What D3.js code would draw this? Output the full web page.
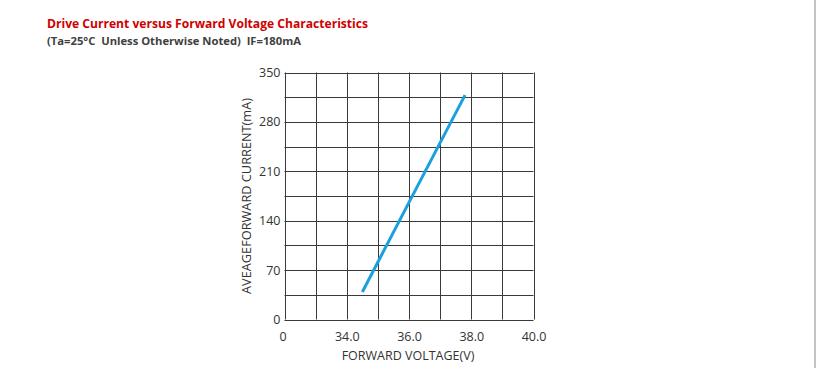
<!DOCTYPE html>
<html>
<head>
<meta charset="utf-8">
<script src="https://cdn.jsdelivr.net/npm/d3@7"></script>
<style>
  html, body { margin: 0; padding: 0; background: #fff; }
  svg { display: block; }
</style>
</head>
<body>
<svg id="chart" width="817" height="370"></svg>
<script>
// values
const voltage = [34.5, 36.0, 37.8];       // V
const current = [39, 166, 318];           // mA
const x_ticks = [32, 34, 36, 38, 40];     // 32 is printed as "0" (axis break)
const y_ticks = [0, 70, 140, 210, 280, 350];
const x_grid = d3.range(32, 40.01, 1);
const y_grid = d3.range(0, 350.01, 35);

const title = "Drive Current versus Forward Voltage Characteristics";
const subtitle = "(Ta=25\u00b0C  Unless Otherwise Noted)  IF=180mA";
const x_label = "FORWARD VOLTAGE(V)";
const y_label = "AVEAGEFORWARD CURRENT(mA)";

const svg = d3.select("#chart");
const plot_left = 284.5, plot_right = 533.5, plot_top = 72.5, plot_bottom = 319.5;

const x = d3.scaleLinear().domain([32, 40]).range([plot_left, plot_right]);
const y = d3.scaleLinear().domain([0, 350]).range([plot_bottom, plot_top]);

// page edge on the right
svg.append("line")
    .attr("x1", 815).attr("x2", 815).attr("y1", 0).attr("y2", 368)
    .attr("stroke", "#c4c4c4").attr("stroke-width", 2);

svg.append("text")
    .attr("x", 47).attr("y", 28)
    .attr("textLength", 321).attr("lengthAdjust", "spacingAndGlyphs")
    .style("font", "bold 12.5px 'Open Sans', sans-serif")
    .attr("fill", "#d00000")
    .text(title);

svg.append("text")
    .attr("x", 47).attr("y", 44.5)
    .attr("textLength", 254).attr("lengthAdjust", "spacingAndGlyphs")
    .style("font", "bold 10.5px 'Open Sans', sans-serif")
    .style("white-space", "pre")
    .attr("fill", "#404040")
    .text(subtitle);

// grid
svg.append("g").selectAll("line")
    .data(x_grid)
    .enter().append("line")
    .attr("x1", d => Math.round(x(d)) + 0.5).attr("x2", d => Math.round(x(d)) + 0.5)
    .attr("y1", plot_top).attr("y2", plot_bottom)
    .attr("stroke", "#3a3a3a").attr("stroke-width", 1);

svg.append("g").selectAll("line")
    .data(y_grid)
    .enter().append("line")
    .attr("y1", d => Math.round(y(d)) + 0.5).attr("y2", d => Math.round(y(d)) + 0.5)
    .attr("x1", plot_left).attr("x2", plot_right)
    .attr("stroke", "#3a3a3a").attr("stroke-width", 1);

// axes (labels only, gridlines do the rest)
const x_axis = d3.axisBottom(x)
    .tickValues(x_ticks)
    .tickSize(0)
    .tickPadding(13)
    .tickFormat(d => d === 32 ? "0" : d3.format(".1f")(d));

const y_axis = d3.axisLeft(y)
    .tickValues(y_ticks)
    .tickSize(0)
    .tickPadding(4);

const gx = svg.append("g").attr("transform", "translate(0," + plot_bottom + ")").call(x_axis);
const gy = svg.append("g").attr("transform", "translate(" + plot_left + ",0)").call(y_axis);
gx.select(".domain").remove();
gy.select(".domain").remove();
gx.selectAll("text").attr("x", d => d === 32 ? -2 : 0);
[gx, gy].forEach(g => g.selectAll("text")
    .style("font", "12.5px 'Open Sans', sans-serif")
    .attr("fill", "#333"));

svg.append("text")
    .attr("x", 408).attr("y", 360)
    .attr("text-anchor", "middle")
    .style("font", "12.5px 'Open Sans', sans-serif")
    .attr("fill", "#333")
    .text(x_label);

svg.append("text")
    .attr("transform", "translate(251,196) rotate(-90)")
    .attr("text-anchor", "middle")
    .attr("textLength", 196).attr("lengthAdjust", "spacingAndGlyphs")
    .style("font", "12.5px 'Open Sans', sans-serif")
    .attr("fill", "#333")
    .text(y_label);

// the curve
const line = d3.line()
    .x((d, i) => x(voltage[i]))
    .y(d => y(d));

svg.append("path")
    .datum(current)
    .attr("d", line)
    .attr("fill", "none")
    .attr("stroke", "#1aa0dc")
    .attr("stroke-width", 3);
</script>
</body>
</html>
